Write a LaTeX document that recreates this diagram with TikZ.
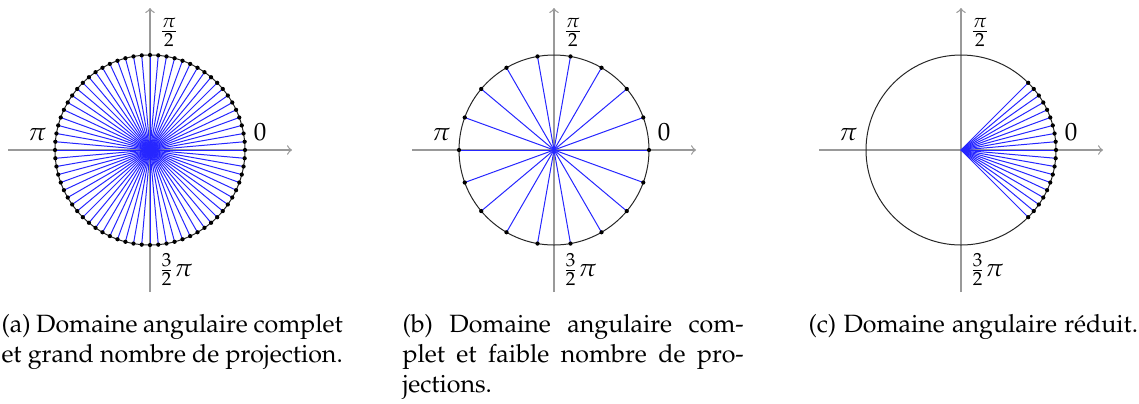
\documentclass[tikz,border=0pt]{standalone}
\usepackage[T1]{fontenc}
\usepackage[sc]{mathpazo}
\begin{document}
\begin{tikzpicture}[x=0.4pt,y=0.4pt,
  axis/.style={gray!80,line width=0.5pt,->},
  rim/.style={black!85,line width=0.4pt},
  ray/.style={blue!85,line width=0.4pt},
  dotc/.style={fill=black},
  caption/.style={anchor=base west,inner sep=0pt,text width=136.5pt,align=justify}]
\useasboundingbox (0,0) rectangle (1139,403);
% ---------- (a)
\begin{scope}[shift={(150,253)}]
  \coordinate (oa) at (0,0);
  \draw[axis] (-142,0) -- (142,0);
  \draw[axis] (0,-142) -- (0,142);
  \foreach \a in {0,5,...,175} \draw[ray] (\a:95) -- (\a+180:95);
  \draw[rim] (oa) circle (95);
  \foreach \a in {0,5,...,355} \fill[dotc] (\a:95) circle[radius=0.85pt];
  \node[above right] (ta1) at (0,95) {$\frac{\pi}{2}$};
  \node[above left] (ta2) at (-95,0) {$\pi$};
  \node[above right] (ta3) at (95,0) {$0$};
  \node[below right] (ta4) at (0,-95) {$\frac{3}{2}\pi$};
\end{scope}
% ---------- (b)
\begin{scope}[shift={(554,253)}]
  \coordinate (ob) at (0,0);
  \draw[axis] (-142,0) -- (142,0);
  \draw[axis] (0,-142) -- (0,142);
  \foreach \a in {0,20,...,160} \draw[ray] (\a:95) -- (\a+180:95);
  \draw[rim] (ob) circle (95);
  \foreach \a in {0,20,...,340} \fill[dotc] (\a:95) circle[radius=0.85pt];
  \node[above right] (tb1) at (0,95) {$\frac{\pi}{2}$};
  \node[above left] (tb2) at (-95,0) {$\pi$};
  \node[above right] (tb3) at (95,0) {$0$};
  \node[below right] (tb4) at (0,-95) {$\frac{3}{2}\pi$};
\end{scope}
% ---------- (c)
\begin{scope}[shift={(961,253)}]
  \coordinate (oc) at (0,0);
  \draw[axis] (-142,0) -- (142,0);
  \draw[axis] (0,-142) -- (0,142);
  \foreach \a in {-45,-40,...,45} \draw[ray] (oc) -- (\a:95);
  \draw[rim] (oc) circle (95);
  \foreach \a in {-45,-40,...,45} \fill[dotc] (\a:95) circle[radius=0.85pt];
  \node[above right] (tc1) at (0,95) {$\frac{\pi}{2}$};
  \node[above left] (tc2) at (-95,0) {$\pi$};
  \node[above right] (tc3) at (95,0) {$0$};
  \node[below right] (tc4) at (0,-95) {$\frac{3}{2}\pi$};
\end{scope}
% ---------- captions
\node[caption] (capa) at (1,71) {(a) Domaine angulaire complet\linebreak et grand nombre de projection.};
\node[caption] (capb) at (402,71) {(b) Domaine angulaire com-\linebreak plet et faible nombre de pro-\linebreak jections.};
\node[caption] (capc) at (808,71) {(c) Domaine angulaire r\'eduit.};
\end{tikzpicture}
\end{document}
